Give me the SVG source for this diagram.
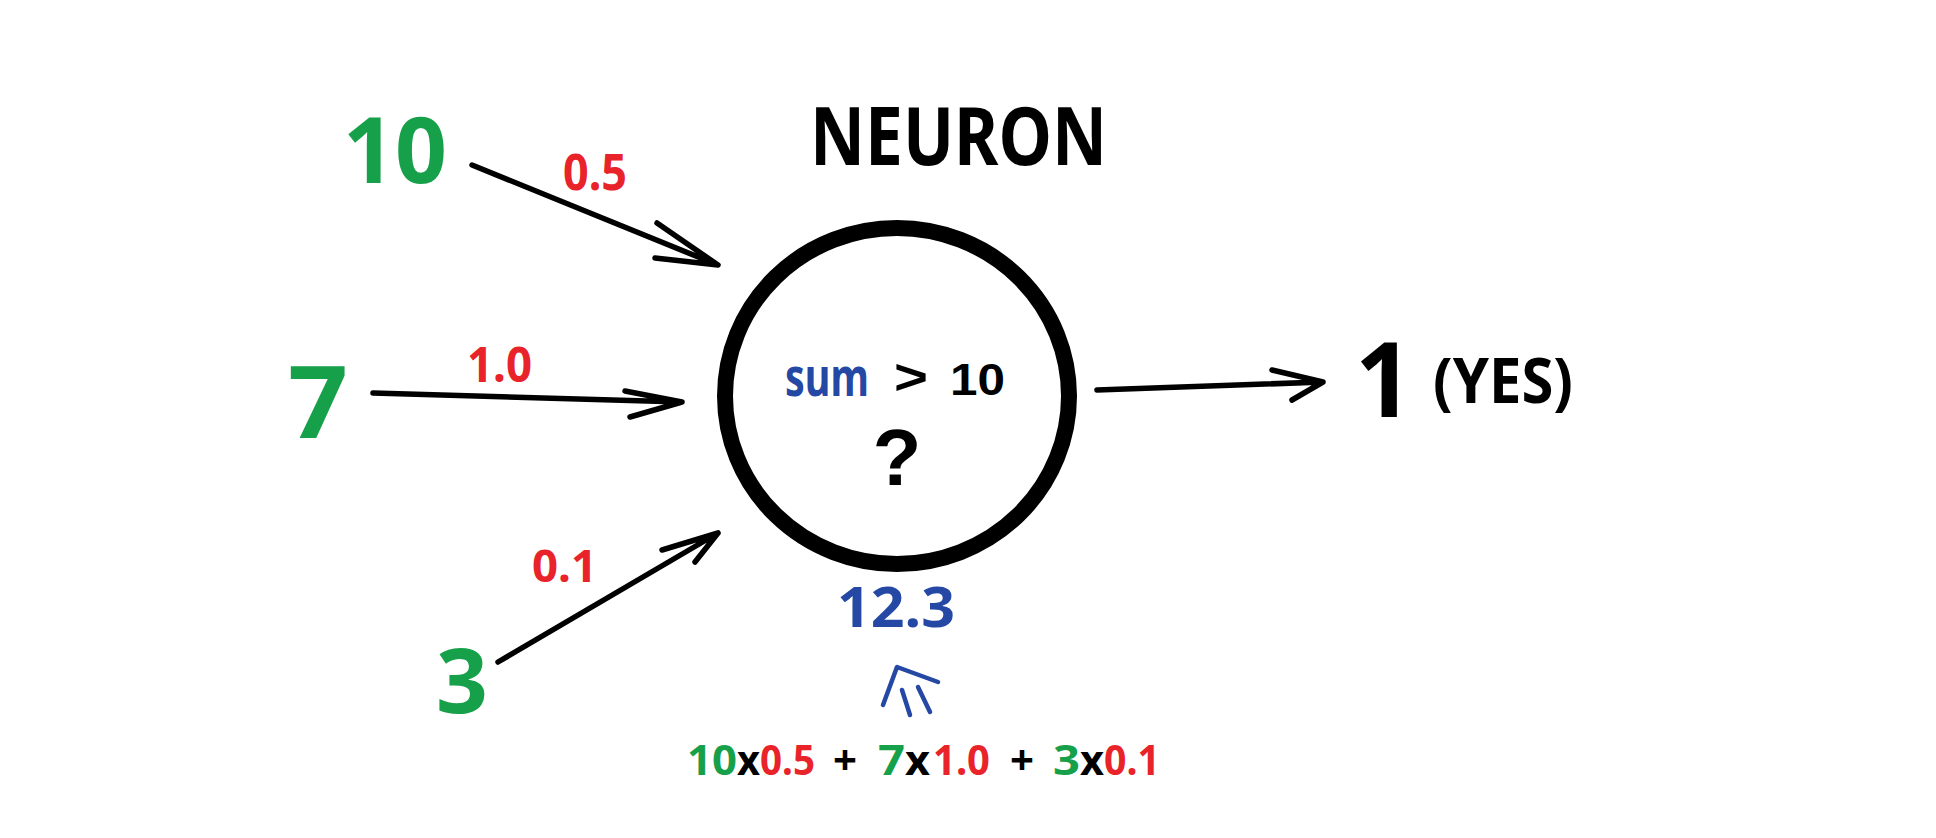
<svg xmlns="http://www.w3.org/2000/svg" width="1936" height="838" viewBox="0 0 1936 838">
<style>
text{font-family:"Noto Sans","Liberation Sans",sans-serif;font-weight:bold}
.lib{font-family:"Liberation Sans",Arial,sans-serif}
.g{fill:#17a04a}.r{fill:#e9232a}.b{fill:#2548a4}.k{fill:#000}
.ln{fill:none;stroke:#000;stroke-width:5.5;stroke-linecap:round;stroke-linejoin:round}
.bl{fill:none;stroke:#2548a4;stroke-width:4.5;stroke-linecap:round;stroke-linejoin:round}
</style>
<rect width="1936" height="838" fill="#fff"/>
<g id="input-10"><text class="g" x="343" y="183" font-size="92" textLength="104" lengthAdjust="spacingAndGlyphs">10</text></g>
<g id="input-7"><text class="g" x="288" y="438" font-size="100" textLength="60" lengthAdjust="spacingAndGlyphs">7</text></g>
<g id="input-3"><text class="g" x="436" y="713" font-size="90" textLength="52" lengthAdjust="spacingAndGlyphs">3</text></g>
<g id="weight-05"><text class="r" x="563" y="190" font-size="50" textLength="64" lengthAdjust="spacingAndGlyphs">0.5</text></g>
<g id="weight-10"><text class="r" x="467" y="382" font-size="48" textLength="65" lengthAdjust="spacingAndGlyphs">1.0</text></g>
<g id="weight-01"><text class="r" x="532" y="582" font-size="45" textLength="65" lengthAdjust="spacingAndGlyphs">0.1</text></g>
<g id="neuron">
<text class="k" x="810" y="165" font-size="80" textLength="297" lengthAdjust="spacingAndGlyphs">NEURON</text>
<ellipse cx="897" cy="396" rx="172" ry="168" fill="none" stroke="#000" stroke-width="16"/>
<text class="b" transform="translate(785,396) scale(0.73,1)" x="0" y="0" font-size="54">sum</text>
<text class="k lib" x="894" y="394" font-size="50" textLength="34" lengthAdjust="spacingAndGlyphs">&gt;</text>
<text class="k lib" x="950" y="395" font-size="44" textLength="55" lengthAdjust="spacingAndGlyphs">10</text>
<text class="k lib" x="897" y="485" font-size="80" text-anchor="middle">?</text>
</g>
<g id="sum-value"><text class="b" x="837" y="627" font-size="56" textLength="118" lengthAdjust="spacingAndGlyphs">12.3</text></g>
<g id="formula"><text x="687" y="775" font-size="42"><tspan class="g" textLength="50" lengthAdjust="spacingAndGlyphs">10</tspan><tspan class="k" x="737" textLength="23" lengthAdjust="spacingAndGlyphs">x</tspan><tspan class="r" x="760" textLength="55" lengthAdjust="spacingAndGlyphs">0.5</tspan><tspan class="k" x="833">+</tspan><tspan class="g" x="878" textLength="27" lengthAdjust="spacingAndGlyphs">7</tspan><tspan class="k" x="905" textLength="25" lengthAdjust="spacingAndGlyphs">x</tspan><tspan class="r" x="933" textLength="57" lengthAdjust="spacingAndGlyphs">1.0</tspan><tspan class="k" x="1010">+</tspan><tspan class="g" x="1053" textLength="27" lengthAdjust="spacingAndGlyphs">3</tspan><tspan class="k" x="1080" textLength="24" lengthAdjust="spacingAndGlyphs">x</tspan><tspan class="r" x="1104" textLength="56" lengthAdjust="spacingAndGlyphs">0.1</tspan></text></g>
<g id="output"><text class="k" x="1355" y="417" font-size="104" textLength="58" lengthAdjust="spacingAndGlyphs">1</text><text class="k" x="1433" y="403" font-size="62" font-weight="600" textLength="140" lengthAdjust="spacingAndGlyphs">(YES)</text></g>
<g id="connectors">
<path class="ln" d="M472,165 L718,265 M657,223 L718,265 L655,258"/>
<path class="ln" d="M373,393 L682,402 M625,391 L682,402 L630,417"/>
<path class="ln" d="M498,662 L718,533 M662,550 L718,533 L695,562"/>
<path class="ln" d="M1097,390 L1323,382 M1272,370 L1323,382 L1292,400"/>
<path class="bl" d="M883,705 L897,667 L938,682 M902,690 L910,715 M918,687 L930,712"/>
</g>
</svg>
